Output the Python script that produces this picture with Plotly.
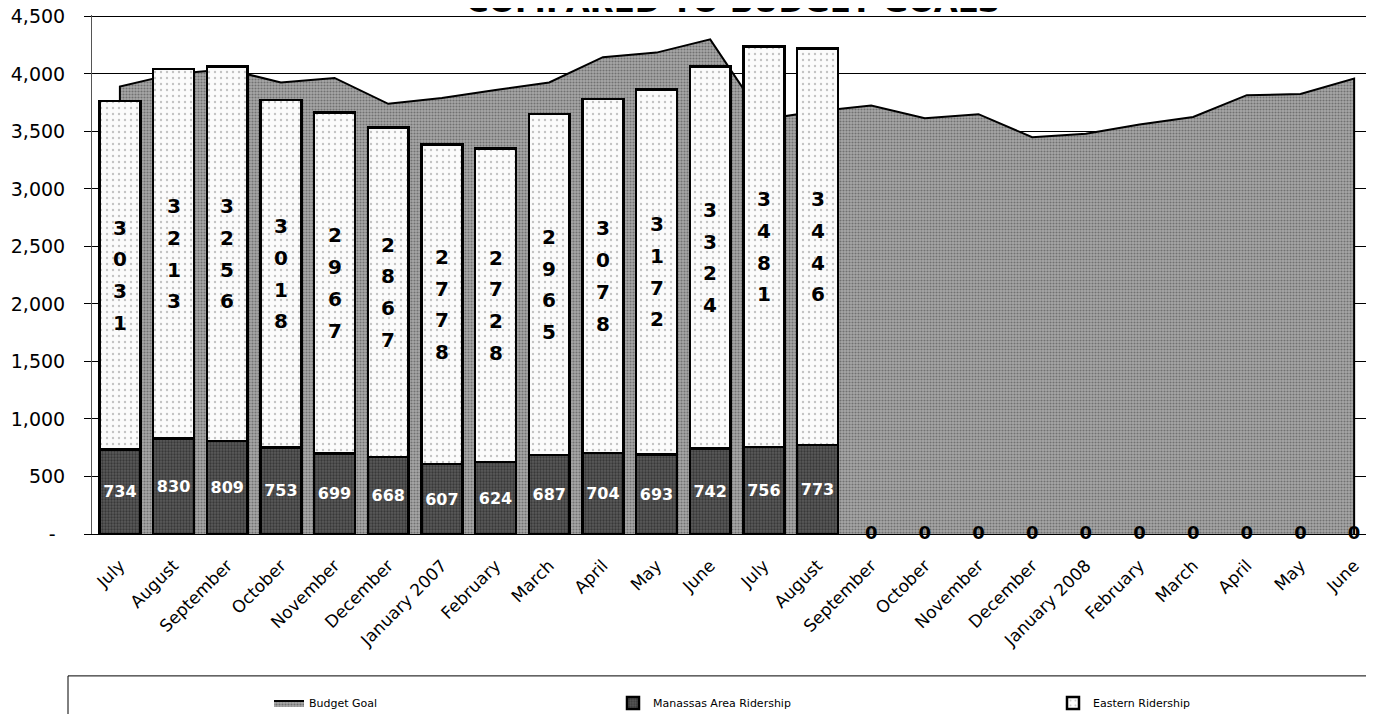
import plotly.graph_objects as go

months = ["July", "August", "September", "October", "November", "December",
          "January 2007", "February", "March", "April", "May", "June",
          "July", "August", "September", "October", "November", "December",
          "January 2008", "February", "March", "April", "May", "June"]

budget_goal = [3890, 4000, 4040, 3925, 3965, 3740, 3790, 3860, 3925, 4145, 4185, 4300,
               3605, 3675, 3725, 3615, 3650, 3450, 3480, 3560, 3625, 3815, 3825, 3960]

manassas = [734, 830, 809, 753, 699, 668, 607, 624, 687, 704, 693, 742, 756, 773,
            0, 0, 0, 0, 0, 0, 0, 0, 0, 0]

eastern = [3031, 3213, 3256, 3018, 2967, 2867, 2778, 2728, 2965, 3078, 3172, 3324, 3481, 3446,
           0, 0, 0, 0, 0, 0, 0, 0, 0, 0]

y_ticks = [0, 500, 1000, 1500, 2000, 2500, 3000, 3500, 4000, 4500]
y_ticktext = ["-\u2002", "500", "1,000", "1,500", "2,000", "2,500", "3,000", "3,500", "4,000", "4,500"]

idx = list(range(len(months)))
FONT = "DejaVu Sans"

fig = go.Figure()

# Budget goal area (closed polygon down to the baseline)
fig.add_trace(go.Scatter(
    x=[idx[0]] + idx + [idx[-1]],
    y=[0] + budget_goal + [0],
    mode="lines", fill="toself", name="Budget Goal",
    line=dict(color="black", width=2),
    fillcolor="#9c9c9c",
    fillpattern=dict(shape=".", bgcolor="#a8a8a8", fgcolor="#3a3a3a", size=3, solidity=0.4),
    legend="legend", xaxis="x", yaxis="y", hoverinfo="skip",
))

man_y = [v if v else None for v in manassas]
eas_y = [v if v else None for v in eastern]

fig.add_trace(go.Bar(
    x=idx, y=man_y, name="Manassas Area Ridership",
    marker=dict(color="#555555", line=dict(color="black", width=2.5),
                pattern=dict(shape=".", bgcolor="#5a5a5a", fgcolor="#151515", size=3, solidity=0.45)),
    text=[str(v) if v else "" for v in manassas],
    textposition="inside", insidetextanchor="middle", textangle=0,
    textfont=dict(family=FONT, size=16, color="white", weight="bold"),
    legend="legend2", xaxis="x2", yaxis="y2", hoverinfo="skip",
))

fig.add_trace(go.Bar(
    x=idx, y=eas_y, name="Eastern Ridership",
    marker=dict(color="white", line=dict(color="black", width=2.5),
                pattern=dict(shape=".", bgcolor="#fbfbfb", fgcolor="#8a8a8a", size=6, solidity=0.12)),
    legend="legend3", xaxis="x2", yaxis="y2", hoverinfo="skip",
))

# "0" labels for months without data
zero_x = [i for i in idx if eastern[i] == 0]
fig.add_trace(go.Scatter(
    x=zero_x, y=[eastern[i] for i in zero_x], mode="text",
    text=[str(eastern[i]) for i in zero_x], textposition="middle center",
    textfont=dict(family=FONT, size=18, color="black", weight="bold"),
    cliponaxis=False,
    showlegend=False, xaxis="x2", yaxis="y2", hoverinfo="skip",
))

# Vertical digit labels for Eastern Ridership
annotations = []
for i in idx:
    if eastern[i]:
        digits = str(eastern[i])
        n = len(digits)
        for k, d in enumerate(digits):
            annotations.append(dict(
                x=i, y=manassas[i] + eastern[i] / 2, xref="x", yref="y",
                text=d, showarrow=False, yshift=((n - 1) / 2 - k) * 31.7,
                font=dict(family=FONT, size=20, color="black", weight="bold"),
            ))

# page body adds an 8px offset, so the figure is sized to the visible area
W, H = 1366, 706
OFF = 8
Y_MAX = 4512                       # a hair above 4,500 so the top gridline is kept
px_per_unit = 518 / 4500
plot_bottom = 534 - OFF            # figure px of value 0
plot_h = Y_MAX * px_per_unit
top_margin = plot_bottom - plot_h
extra = plot_h - 518

annotations.append(dict(
    x=0.5, y=1, xref="paper", yref="paper", xanchor="center", yanchor="bottom",
    yshift=-5 - extra, text="COMPARED TO BUDGET GOALS", showarrow=False,
    font=dict(family=FONT, size=31, color="black", weight="bold"),
))

leg_y = (H - (703 - OFF)) / H


def leg(text_px):
    return dict(x=(text_px - OFF - 40) / W, y=leg_y, xref="container", yref="container",
                xanchor="left", yanchor="middle", orientation="h",
                bgcolor="rgba(0,0,0,0)", font=dict(family=FONT, size=11, color="black"),
                itemwidth=30)


xrange = [-0.52, 23.37]
yrange = [0, Y_MAX]
box_y0 = (plot_bottom - (676 - OFF)) / plot_h
box_x0 = (68 - 92) / 1282

fig.update_layout(
    width=W, height=H,
    margin=dict(l=92 - OFF, r=0, t=top_margin, b=H - plot_bottom, autoexpand=False),
    paper_bgcolor="white", plot_bgcolor="white",
    barmode="stack", bargap=0.24,
    font=dict(family=FONT, color="black"),
    xaxis=dict(range=xrange, tickmode="array", tickvals=idx, ticktext=months,
               tickangle=-45, tickfont=dict(family=FONT, size=17, color="black"),
               showline=True, linecolor="black", linewidth=1, showgrid=False,
               zeroline=False, ticks="", ticklabelstandoff=14, automargin=False,
               ticklabeloverflow="allow"),
    yaxis=dict(range=yrange, tickmode="array", tickvals=y_ticks, ticktext=y_ticktext,
               tickfont=dict(family=FONT, size=19, color="black"),
               showgrid=True, gridcolor="black", gridwidth=1,
               showline=True, linecolor="#555555", linewidth=1,
               ticks="outside", ticklen=7, tickcolor="black",
               ticklabelstandoff=15, zeroline=False, automargin=False,
               ticklabeloverflow="allow"),
    xaxis2=dict(range=xrange, overlaying="x", visible=False, automargin=False),
    yaxis2=dict(range=yrange, overlaying="y", visible=False, automargin=False),
    annotations=annotations,
    legend=leg(309),
    legend2=leg(653),
    legend3=leg(1093),
    shapes=[dict(type="rect", xref="paper", yref="paper",
                 x0=box_x0, x1=1.1, y0=box_y0, y1=-0.6,
                 line=dict(color="black", width=1), fillcolor="rgba(0,0,0,0)", layer="below")],
)

fig.write_html("out.html")
